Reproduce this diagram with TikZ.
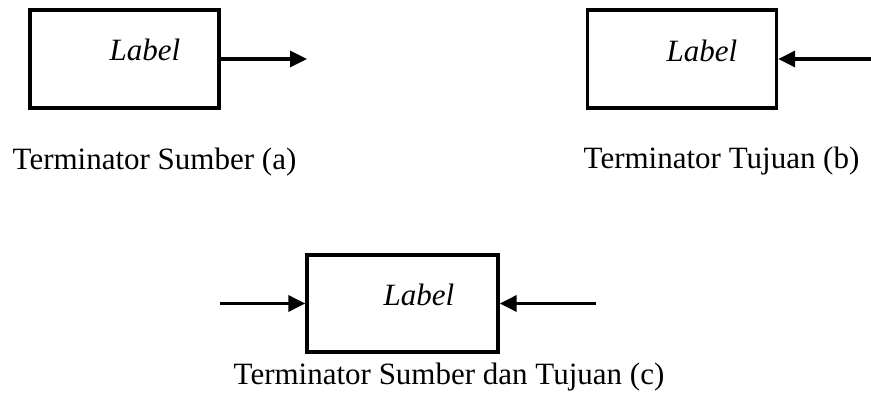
\documentclass[tikz,border=0pt]{standalone}
\usepackage{fontspec}
\setmainfont{Liberation Serif}
\usetikzlibrary{arrows.meta,positioning}

\begin{document}
\begin{tikzpicture}[x=1pt,y=-1pt,>={Triangle[length=17pt,width=16pt]},line width=3.4pt]
\tikzstyle{term}=[draw, rectangle, minimum width=189pt, minimum height=98pt, inner sep=0pt]
\tikzstyle{txt}=[font=\fontsize{31}{37}\selectfont, inner sep=0pt, anchor=base west]
\useasboundingbox (0,0) rectangle (871,401);
% (a) sumber
\node[term] (src) at (124.5,59) {};
\node[txt] (srclabel) at (108,61) {\textit{Label}};
\coordinate (srcout) at (307,59);
\draw[->] (src.east) -- (srcout);
\node[txt] (srccap) at (11,170) {Terminator Sumber (a)};
% (b) tujuan
\node[term] (dst) at (682,59) {};
\node[txt] (dstlabel) at (665,62) {\textit{Label}};
\coordinate (dstin) at (871,59);
\draw[->] (dstin) -- (dst.east);
\node[txt] (dstcap) at (582,169) {Terminator Tujuan (b)};
% (c) sumber dan tujuan
\node[term, minimum width=191pt, minimum height=97pt] (both) at (402.5,303.5) {};
\node[txt] (bothlabel) at (382,305) {\textit{Label}};
\coordinate (bothin) at (220,303.5);
\coordinate (bothout) at (596,303.5);
\draw[->] (bothin) -- (both.west);
\draw[->] (bothout) -- (both.east);
\node[txt] (bothcap) at (232,384) {Terminator Sumber dan Tujuan (c)};
\end{tikzpicture}
\end{document}
